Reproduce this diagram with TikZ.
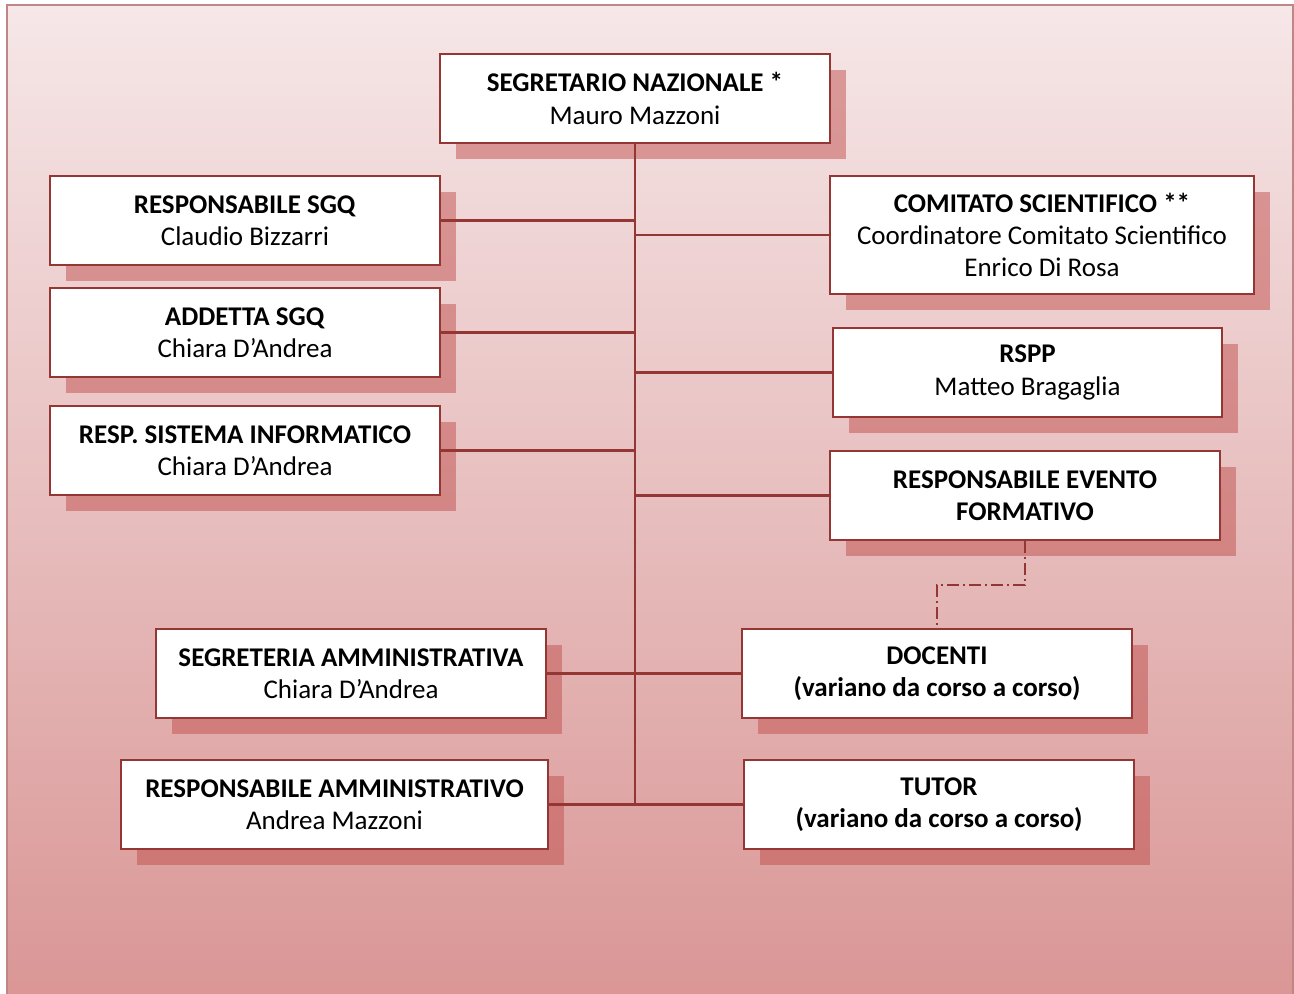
\documentclass[tikz,border=0pt]{standalone}
\usepackage{fontspec}
\setmainfont{Carlito}
\usepackage{tikz}
\usetikzlibrary{shadows,calc}
\definecolor{bordo}{HTML}{943634}
\definecolor{ombra}{HTML}{C0504D}
\definecolor{sfondoalto}{HTML}{F6E7E8}
\definecolor{sfondobasso}{HTML}{D99594}
\tikzset{
  ruolo/.style={draw=bordo, line width=1.2pt, fill=white, align=center,
    minimum height=44.5pt, inner sep=0pt,
    font=\fontsize{13.5}{16.2}\selectfont,
    drop shadow={shadow xshift=8pt, shadow yshift=-8pt, fill=ombra, opacity=0.5}},
  linea/.style={draw=bordo, line width=1.2pt},
  tratteggio/.style={draw=bordo, line width=1pt,
    dash pattern=on 6pt off 2pt on 1pt off 2pt}
}

\begin{document}
\begin{tikzpicture}[x=0.5pt, y=-0.5pt]
\useasboundingbox (0,0) rectangle (1294,993);
\shadedraw[top color=sfondoalto, bottom color=sfondobasso, draw=bordo!60, line width=0.8pt]
  (7,5) rectangle (1293,1010);

% vertice
\node[ruolo, minimum width=195pt] (segretario) at (635,98.5)
  {\textbf{SEGRETARIO NAZIONALE *}\\Mauro Mazzoni};

% lato sinistro
\node[ruolo, minimum width=195pt] (respsgq) at (245,220.5)
  {\textbf{RESPONSABILE SGQ}\\Claudio Bizzarri};
\node[ruolo, minimum width=195pt] (addetta) at (245,332.5)
  {\textbf{ADDETTA SGQ}\\Chiara D’Andrea};
\node[ruolo, minimum width=195pt] (sistema) at (245,450.5)
  {\textbf{RESP. SISTEMA INFORMATICO}\\Chiara D’Andrea};
\node[ruolo, minimum width=195pt] (segreteria) at (351,673.5)
  {\textbf{SEGRETERIA AMMINISTRATIVA}\\Chiara D’Andrea};
\node[ruolo, minimum width=213.5pt] (respamm) at (334.5,804.5)
  {\textbf{RESPONSABILE AMMINISTRATIVO}\\Andrea Mazzoni};

% lato destro
\node[ruolo, minimum width=212pt, minimum height=59pt] (comitato) at (1042,235)
  {\textbf{COMITATO SCIENTIFICO **}\\Coordinatore Comitato Scientifico\\Enrico Di Rosa};
\node[ruolo, minimum width=194.5pt] (rspp) at (1027.5,372.5)
  {\textbf{RSPP}\\Matteo Bragaglia};
\node[ruolo, minimum width=195pt] (evento) at (1025,495.5)
  {\textbf{RESPONSABILE EVENTO}\\\textbf{FORMATIVO}};
\node[ruolo, minimum width=195pt] (docenti) at (937,673.5)
  {\textbf{DOCENTI}\\\textbf{(variano da corso a corso)}};
\node[ruolo, minimum width=195pt] (tutor) at (939,804.5)
  {\textbf{TUTOR}\\\textbf{(variano da corso a corso)}};

% collegamenti
\draw[linea] (segretario.south) -- (segretario.south |- respamm.east);
\draw[linea] (respsgq.east) -- (respsgq.east -| segretario.south);
\draw[linea] (addetta.east) -- (addetta.east -| segretario.south);
\draw[linea] (sistema.east) -- (sistema.east -| segretario.south);
\draw[linea] (comitato.west) -- (comitato.west -| segretario.south);
\draw[linea] (rspp.west) -- (rspp.west -| segretario.south);
\draw[linea] (evento.west) -- (evento.west -| segretario.south);
\draw[linea] (segreteria.east) -- (docenti.west);
\draw[linea] (respamm.east) -- (tutor.west);
\draw[tratteggio] (evento.south) -- ++(0,44) -| (docenti.north);
\end{tikzpicture}
\end{document}
